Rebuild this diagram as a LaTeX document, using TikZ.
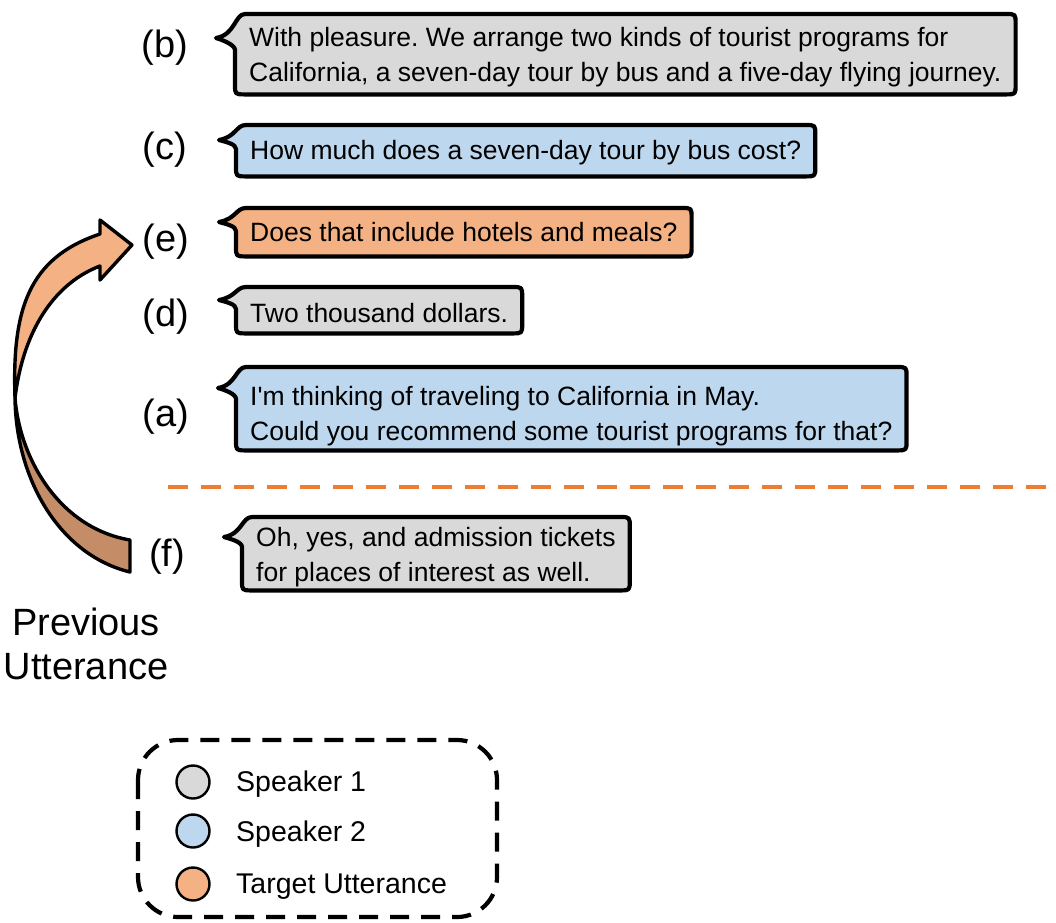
\documentclass[tikz,border=0pt]{standalone}
\usepackage{fontspec}
\setmainfont{Liberation Sans}[Ligatures=TeXOff]
\usetikzlibrary{backgrounds}
\frenchspacing

\definecolor{spkone}{HTML}{D9D9D9}
\definecolor{spktwo}{HTML}{BDD7EE}
\definecolor{target}{HTML}{F4B183}
\definecolor{targetdark}{RGB}{196,141,103}
\definecolor{divider}{HTML}{ED7D31}

% Speech bubble drawn around a text node:
% #1 node, #2 fill, #3 tip depth below top, #4 lower attach depth,
% #5 tip reach, #6 how far the bubble sits above the node box
\newcommand\speechbubble[6]{%
  \filldraw[bubline, fill=#2]
    ([shift={(10,-#6)}]#1.north west) -- ([shift={(-10,-#6)}]#1.north east)
    .. controls ([shift={(0,-#6)}]#1.north east) .. ([shift={(0,10-#6)}]#1.north east)
    -- ([shift={(0,-10-#6)}]#1.south east)
    .. controls ([shift={(0,-#6)}]#1.south east) .. ([shift={(-10,-#6)}]#1.south east)
    -- ([shift={(10,-#6)}]#1.south west)
    .. controls ([shift={(0,-#6)}]#1.south west) .. ([shift={(0,-10-#6)}]#1.south west)
    -- ([shift={(0,#4-#6)}]#1.north west)
    .. controls ([shift={(0,#4-5-#6)}]#1.north west) and ([shift={(-#5+7,#3+2-#6)}]#1.north west)
    .. ([shift={(-#5,#3-#6)}]#1.north west)
    .. controls ([shift={(0,#3-3-#6)}]#1.north west) and ([shift={(0,-#6)}]#1.north west)
    .. ([shift={(10,-#6)}]#1.north west) -- cycle;
}

\tikzset{
  bubline/.style={line width=4.2pt, line join=round},
  utter/.style={font=\fontsize{26.5}{35}\selectfont, align=left,
    inner xsep=14, inner ysep=0, anchor=north west},
  lab/.style={font=\fontsize{38}{44}\selectfont, inner sep=0},
  arrowpart/.style={line width=3.4pt, line join=round},
  legdot/.style={circle, draw, line width=2.4pt, minimum size=33, inner sep=0},
  legtext/.style={font=\fontsize{28.5}{34}\selectfont, anchor=west, inner sep=0},
}

\begin{document}
\begin{tikzpicture}[x=1pt, y=-1pt]
\useasboundingbox (0,0) rectangle (1056,922);

% utterances (each box is offset upward from its text by the last bubble argument)
\node[utter, minimum height=80] (ub) at (235,17)
  {With pleasure. We arrange two kinds of tourist programs for\\
   California, a seven-day tour by bus and a five-day flying journey.};
\node[utter, minimum height=51] (uc) at (236,127)
  {How much does a seven-day tour by bus cost?};
\node[utter, minimum height=48] (ue) at (236,208)
  {Does that include hotels and meals?};
\node[utter, minimum height=46] (ud) at (236,290)
  {Two thousand dollars.};
\node[utter, minimum height=83] (ua) at (236,374)
  {I'm thinking of traveling to California in May.\\
   Could you recommend some tourist programs for that?};
\node[utter, minimum height=73] (uf) at (242,520)
  {Oh, yes, and admission tickets\\
   for places of interest as well.};

\begin{scope}[on background layer]
  \speechbubble{ub}{spkone}{24}{36}{19}{3}
  \speechbubble{uc}{spktwo}{15}{24}{17}{2}
  \speechbubble{ue}{target}{14}{23}{17}{0}
  \speechbubble{ud}{spkone}{13}{22}{17}{3}
  \speechbubble{ua}{spktwo}{21}{32}{18}{7}
  \speechbubble{uf}{spkone}{20}{30}{18}{3}
\end{scope}

% turn labels
\node[lab] (lb) at (165,48) {(b)};
\node[lab] (lc) at (165,150) {(c)};
\node[lab] (le) at (166,242) {(e)};
\node[lab] (ld) at (166,317) {(d)};
\node[lab] (la) at (166,417) {(a)};
\node[lab] (lf) at (167,557) {(f)};

% divider between context and response
\coordinate (divl) at (168,487);
\coordinate (divr) at (1056,487);
\draw[divider, line width=4pt, dash pattern=on 20pt off 13pt] (divl) -- (divr);

% curved arrow from (f) back to (e)
\filldraw[arrowpart, fill=targetdark]
  (15,398) .. controls (16,480) and (60,555) .. (130,572)
  -- (130,540) .. controls (60,528) and (20,460) .. (15,398) -- cycle;
\filldraw[arrowpart, fill=target]
  (15,398) .. controls (12,310) and (28,258) .. (100,234)
  -- (100,220) -- (132,245) -- (100,280) -- (100,266)
  .. controls (58,282) and (24,325) .. (15,398) -- cycle;

\node[lab, align=center] (prev) at (86,644) {Previous\\Utterance};

% legend
\draw[line width=4.2pt, dash pattern=on 19pt off 12pt, rounded corners=40]
  (138,740) rectangle (497,917);
\node[legdot, fill=spkone] (k1) at (193,782) {};
\node[legdot, fill=spktwo] (k2) at (193,831) {};
\node[legdot, fill=target] (k3) at (193,884) {};
\node[legtext] (t1) at (236,784) {Speaker 1};
\node[legtext] (t2) at (236,834) {Speaker 2};
\node[legtext] (t3) at (236,887) {Target Utterance};
\end{tikzpicture}
\end{document}
